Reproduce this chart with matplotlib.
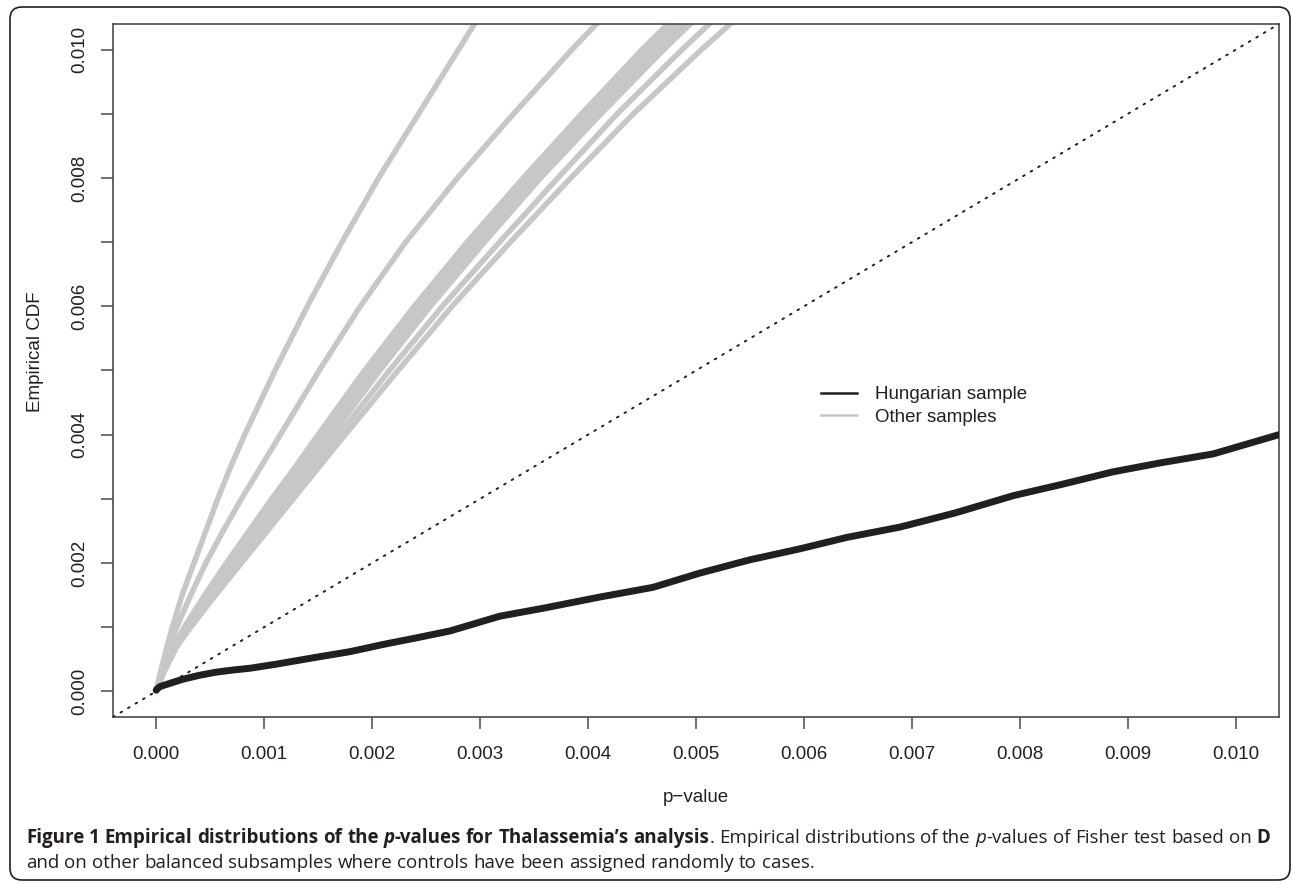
import re
import matplotlib
matplotlib.use("Agg")
import matplotlib.pyplot as plt
from matplotlib.patches import FancyBboxPatch
from matplotlib.transforms import IdentityTransform
from matplotlib.ticker import FixedLocator, FuncFormatter
from matplotlib.lines import Line2D

# ---------------- data ----------------
# Hungarian sample: empirical CDF vs p-value
hung_p = [0, 0.00003, 0.0001, 0.00025, 0.0004, 0.00056, 0.0007, 0.00087, 0.0011, 0.00148,
          0.0018, 0.0021, 0.0024, 0.00272, 0.00318, 0.0036, 0.00411, 0.0046, 0.00503, 0.0055,
          0.00596, 0.0064, 0.00689, 0.0074, 0.00794, 0.0084, 0.00886, 0.0093, 0.00979, 0.0104]
hung_cdf = [0.00002, 0.00007, 0.00011, 0.00019, 0.00025, 0.0003, 0.00033, 0.00036, 0.00042, 0.00053,
            0.00062, 0.00073, 0.00083, 0.00094, 0.00117, 0.0013, 0.00147, 0.00162, 0.00184, 0.00205,
            0.00222, 0.0024, 0.00256, 0.00278, 0.00305, 0.00323, 0.00342, 0.00356, 0.0037, 0.004]

# Other samples: p-value reached at each CDF level
cdf_levels = [0, 0.0003, 0.0007, 0.001, 0.0015, 0.002, 0.0025, 0.003, 0.0035, 0.004,
              0.005, 0.006, 0.007, 0.008, 0.009, 0.010, 0.0106]
other_a = [0, 0.00004, 0.0001, 0.00015, 0.00024, 0.00035, 0.00046, 0.00057, 0.00069, 0.00082,
           0.0011, 0.0014, 0.00172, 0.00206, 0.00243, 0.0028, 0.00302]
other_b = [0, 0.00005, 0.00012, 0.00019, 0.00032, 0.00046, 0.00062, 0.00079, 0.00097, 0.00115,
           0.00151, 0.00189, 0.00231, 0.00279, 0.00331, 0.00385, 0.00419]
other_c1 = [0, 0.00005, 0.00016, 0.00026, 0.00045, 0.00065, 0.00086, 0.00107, 0.00129, 0.0015,
            0.00193, 0.00239, 0.00288, 0.0034, 0.00394, 0.0045, 0.00486]
other_c2 = [0, 0.00006, 0.00016, 0.00027, 0.00047, 0.00067, 0.00088, 0.0011, 0.00131, 0.00153,
            0.00197, 0.00243, 0.00292, 0.00344, 0.00399, 0.00456, 0.00492]
other_c3 = [0, 0.00006, 0.00017, 0.00028, 0.00048, 0.00069, 0.0009, 0.00112, 0.00134, 0.00156,
            0.002, 0.00247, 0.00296, 0.00348, 0.00404, 0.00462, 0.00498]
other_c4 = [0, 0.00006, 0.00018, 0.00029, 0.0005, 0.00071, 0.00093, 0.00115, 0.00137, 0.0016,
            0.00204, 0.00251, 0.00301, 0.00352, 0.00407, 0.00466, 0.00503]
other_c5 = [0, 0.00007, 0.00018, 0.0003, 0.00051, 0.00073, 0.00095, 0.00117, 0.0014, 0.00163,
            0.00207, 0.00254, 0.00304, 0.00356, 0.00412, 0.0047, 0.00507]
other_c6 = [0, 0.00006, 0.00017, 0.00028, 0.00049, 0.0007, 0.00091, 0.00114, 0.00136, 0.00158,
            0.00202, 0.00249, 0.00298, 0.0035, 0.00406, 0.00464, 0.005]
other_d1 = [0, 0.00007, 0.00019, 0.00031, 0.00053, 0.00076, 0.00099, 0.00122, 0.00146, 0.00169,
            0.00216, 0.00265, 0.00318, 0.00372, 0.00427, 0.00487, 0.00525]
other_d2 = [0, 0.00007, 0.00019, 0.00032, 0.00055, 0.00079, 0.00103, 0.00127, 0.00151, 0.00175,
            0.00224, 0.00274, 0.00328, 0.00384, 0.00442, 0.00505, 0.00545]
other_samples = [other_a, other_b, other_c1, other_c2, other_c3, other_c4, other_c5, other_c6,
                 other_d1, other_d2]

tick_values = [0.000, 0.001, 0.002, 0.003, 0.004, 0.005, 0.006, 0.007, 0.008, 0.009, 0.010]
legend_labels = ["Hungarian sample", "Other samples"]
x_title = "p\u2212value"
y_title = "Empirical CDF"

caption_line1 = [
    ("Figure 1 Empirical distributions of the ", "bold", "normal"),
    ("p", "bold", "italic"),
    ("-values for Thalassemia\u2019s analysis", "bold", "normal"),
    (". Empirical distributions of the ", "normal", "normal"),
    ("p", "normal", "italic"),
    ("-values of Fisher test based on ", "normal", "normal"),
    ("D", "bold", "normal"),
]
caption_line2 = [
    ("and on other balanced subsamples where controls have been assigned randomly to cases.", "normal", "normal"),
]

# ---------------- style ----------------
W, H = 1292, 882
BLACK = "#231f20"
GRAY = "#c6c7c9"
SPINE = "#4a4a4a"
AX_FONT = "Liberation Sans"
CAP_FONT = "Open Sans"
FS = 13.5

fig = plt.figure(figsize=(W / 100, H / 100), dpi=100)
renderer = fig.canvas.get_renderer()

# rounded border
border = FancyBboxPatch((10, H - 880), 1280, 873, boxstyle="round,pad=0,rounding_size=12",
                        transform=IdentityTransform(), fill=False, lw=1.2, ec=BLACK)
fig.patches.append(border)

left, right, top, bottom = 113, 1279, 24, 717
ax = fig.add_axes([left / W, 1 - bottom / H, (right - left) / W, (bottom - top) / H])
ax.set_xlim(-0.0004, 0.0104)
ax.set_ylim(-0.0004, 0.0104)

for s in other_samples:
    ax.plot(s, cdf_levels, color=GRAY, lw=4, solid_capstyle="round", solid_joinstyle="round", zorder=2)
ax.plot([-0.0004, 0.0104], [-0.0004, 0.0104], color=BLACK, lw=1.4,
        linestyle=(0, (0.9, 3.6)), dash_capstyle="round", zorder=3)
ax.plot(hung_p, hung_cdf, color=BLACK, lw=5, solid_capstyle="round", solid_joinstyle="round", zorder=4)

for sp in ax.spines.values():
    sp.set_color(SPINE)
    sp.set_linewidth(1.2)

ax.xaxis.set_major_locator(FixedLocator(tick_values))
ax.yaxis.set_major_locator(FixedLocator(tick_values))
ax.xaxis.set_major_formatter(FuncFormatter(lambda v, p: f"{v:.3f}"))
ax.yaxis.set_major_formatter(FuncFormatter(lambda v, p: f"{v:.3f}" if round(v * 1000) % 2 == 0 else ""))
ax.tick_params(axis="both", direction="out", length=8.6, width=1.1, color=SPINE,
               labelsize=FS, labelcolor=BLACK)
ax.tick_params(axis="x", pad=12)
ax.tick_params(axis="y", pad=9, labelrotation=90)
for lab in ax.get_xticklabels() + ax.get_yticklabels():
    lab.set_fontfamily(AX_FONT)
for lab in ax.get_yticklabels():
    lab.set_verticalalignment("center")

fig.text(696 / W, 1 - 797 / H, x_title, ha="center", va="center", fontsize=FS,
         family=AX_FONT, color=BLACK)
fig.text(35 / W, 1 - 352 / H, y_title, ha="center", va="center", rotation=90,
         fontsize=FS, family=AX_FONT, color=BLACK)

handles = [Line2D([], [], color=BLACK, lw=1.8), Line2D([], [], color=GRAY, lw=1.8)]
ax.legend(handles, legend_labels, loc="center left", bbox_to_anchor=(821 / W, 1 - 406 / H),
          bbox_transform=fig.transFigure, frameon=False, borderpad=0, borderaxespad=0,
          handlelength=1.92, handletextpad=0.96, labelspacing=0.28,
          prop={"family": AX_FONT, "size": FS}, labelcolor=BLACK)

# ---------------- caption ----------------
def text_w(s, size, weight, style):
    t = fig.text(0, 0, s, fontsize=size, family=CAP_FONT, fontweight=weight, fontstyle=style)
    w = t.get_window_extent(renderer).width
    t.remove()
    return w

base = 13.0
w2 = text_w(caption_line2[0][0], base, "normal", "normal")
cap_size = base * 786.0 / w2


def draw_runs(runs, x0, ybase, size):
    x = x0
    for txt, weight, style in runs:
        for part in re.split(r"( )", txt):
            if part == "":
                continue
            if part == " ":
                x += text_w("n n", size, weight, style) - text_w("nn", size, weight, style)
                continue
            t = fig.text(x / W, 1 - ybase / H, part, fontsize=size, family=CAP_FONT,
                         fontweight=weight, fontstyle=style, ha="left", va="baseline", color=BLACK)
            x += t.get_window_extent(renderer).width
    return x


draw_runs(caption_line1, 26, 843, cap_size)
draw_runs(caption_line2, 26, 868, cap_size)

fig.savefig("out.png", dpi=100)
